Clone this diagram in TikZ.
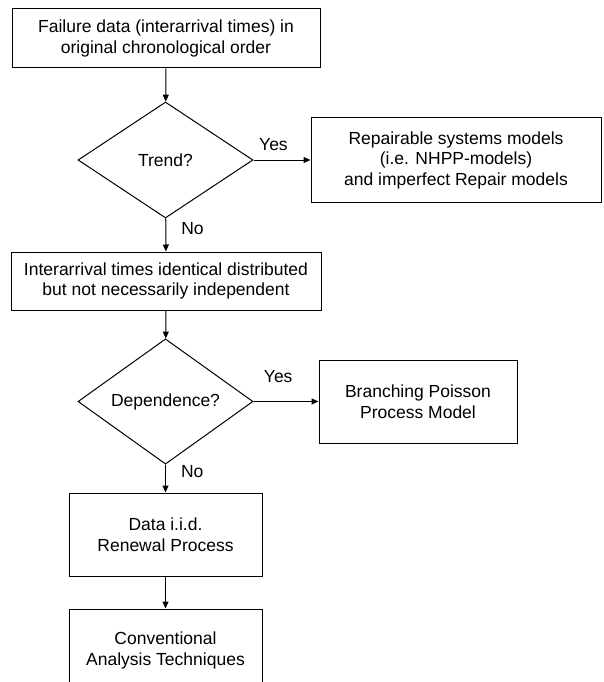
\documentclass[tikz,border=0pt]{standalone}
\usepackage{fontspec}
\setmainfont{Liberation Sans}
\usetikzlibrary{shapes.geometric, arrows.meta}

\tikzset{
box/.style={rectangle, draw, line width=1pt, align=center, inner sep=0pt},
decision/.style={diamond, draw, line width=1pt, inner sep=0pt},
flow/.style={line width=1pt, -{Triangle[length=7pt, width=6pt]}},
answer/.style={inner sep=0pt}
}

\begin{document}
\begin{tikzpicture}[x=1pt, y=-1pt, font=\fontsize{17.5}{20.5}\selectfont]

\useasboundingbox (0, 0) rectangle (603, 682);

\node[box, minimum width = 308pt, 
minimum height = 59pt] (data) at (166, 38.5) {Failure data (interarrival times) in\\original chronological order};
\node[decision, minimum width = 175pt, 
minimum height = 116pt] (trend) at (165.5, 160) {Trend?};
\node[box, minimum width = 290pt, 
minimum height = 84pt] (repair) at (456, 160) {Repairable systems models\\(i.e. NHPP-models)\\and imperfect Repair models};
\node[box, minimum width = 310pt, 
minimum height = 58pt] (identical) at (166, 281) {Interarrival times identical distributed\\but not necessarily independent};
\node[decision, minimum width = 175pt, 
minimum height = 115pt] (dependence) at (165.5, 401.5) {Dependence?};
\node[box, minimum width = 198pt, 
minimum height = 83pt] (branching) at (418, 401.5) {Branching Poisson\\Process Model};
\node[box, minimum width = 193pt, 
minimum height = 83pt] (renewal) at (165.5, 534.5) {Data i.i.d.\\Renewal Process};
\node[box, minimum width = 193pt, 
minimum height = 83pt] (conventional) at (165.5, 650.5) {Conventional\\Analysis Techniques};

\draw[flow] (data) -- (trend);
\draw[flow] (trend) -- node[answer, above=9pt, pos=0.35] (yes1) {Yes} (repair);
\draw[flow] (trend) -- node[answer, right=15pt, pos=0.3] (no1) {No} (identical);
\draw[flow] (identical) -- (dependence);
\draw[flow] (dependence) -- node[answer, above=18pt, pos=0.38] (yes2) {Yes} (branching);
\draw[flow] (dependence) -- node[answer, right=15pt, pos=0.24] (no2) {No} (renewal);
\draw[flow] (renewal) -- (conventional);

\end{tikzpicture}
\end{document}
